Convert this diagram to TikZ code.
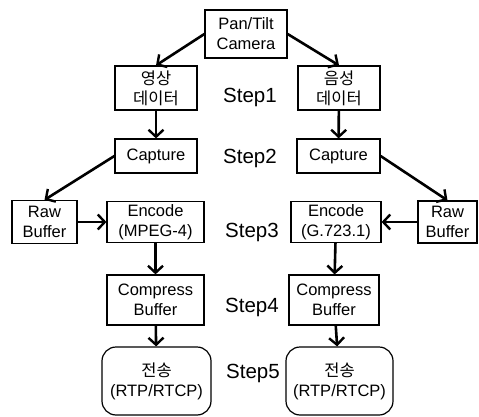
\documentclass[tikz,border=0pt]{standalone}
\usepackage{fontspec}
\setmainfont{Liberation Sans}
\newfontfamily\kr{Noto Sans CJK KR}
\usetikzlibrary{arrows.meta}

\tikzset{
  box/.style={draw, line width=1.2pt, inner sep=0pt, align=center,
    font=\fontsize{16.5}{20}\selectfont},
  sendbox/.style={box, rounded corners=14pt},
  steplabel/.style={font=\fontsize{20.5}{24}\selectfont},
  flow/.style={line width=2.6pt, -{Straight Barb[length=7pt,width=15pt,line width=2.4pt]}}
}

\begin{document}
\begin{tikzpicture}[x=1pt,y=-1pt]
    \useasboundingbox (0,0) rectangle (479,417);
    \node[box, minimum width=82pt, minimum height=48pt] (cam) at (246,34) {Pan/Tilt\\Camera};
    \node[box, minimum width=82pt, minimum height=44pt] (vdata) at (156,88) {{\kr 영상}\\{\kr 데이터}};
    \node[box, minimum width=82pt, minimum height=44pt] (adata) at (339,88) {{\kr 음성}\\{\kr 데이터}};
    \node[box, minimum width=82pt, minimum height=34pt] (vcap) at (156,156) {Capture};
    \node[box, minimum width=83pt, minimum height=34pt] (acap) at (338.5,156) {Capture};
    \node[box, minimum width=65pt, minimum height=43pt] (vraw) at (44.5,222) {Raw\\Buffer};
    \node[box, minimum width=97pt, minimum height=41pt] (venc) at (155.5,222) {Encode\\(MPEG-4)};
    \node[box, minimum width=90pt, minimum height=41pt] (aenc) at (336,222) {Encode\\(G.723.1)};
    \node[box, minimum width=59pt, minimum height=42pt] (araw) at (447.5,222) {Raw\\Buffer};
    \node[box, minimum width=97pt, minimum height=50pt] (vcomp) at (155.5,300) {Compress\\Buffer};
    \node[box, minimum width=90pt, minimum height=50pt] (acomp) at (334,300) {Compress\\Buffer};
    \node[sendbox, minimum width=109pt, minimum height=68pt] (vsend) at (156.5,381) {{\kr 전송}\\(RTP/RTCP)};
    \node[sendbox, minimum width=107pt, minimum height=68pt] (asend) at (339.5,381) {{\kr 전송}\\(RTP/RTCP)};
    \node[steplabel] (s1) at (250,97) {Step1};
    \node[steplabel] (s2) at (250,158) {Step2};
    \node[steplabel] (s3) at (252,232) {Step3};
    \node[steplabel] (s4) at (252,307) {Step4};
    \node[steplabel] (s5) at (253,373) {Step5};
    \draw[flow] (cam.west) -- (vdata.north);
    \draw[flow] (cam.east) -- (adata.north);
    \draw[flow] (vdata) -- (vcap);
    \draw[flow] (adata) -- (acap);
    \draw[flow] (vcap.west) -- (vraw.north);
    \draw[flow] (acap.east) -- (araw.north);
    \draw[flow] (vraw) -- (venc);
    \draw[flow] (araw) -- (aenc);
    \draw[flow] (venc) -- (vcomp);
    \draw[flow] (aenc) -- (acomp);
    \draw[flow] (vcomp) -- (vsend);
    \draw[flow] (acomp) -- (asend);
\end{tikzpicture}
\end{document}
